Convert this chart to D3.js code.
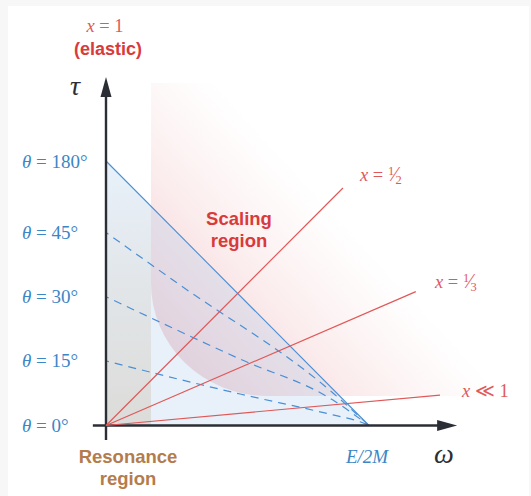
<!DOCTYPE html>
<html>
<head>
<meta charset="utf-8">
<script src="https://cdn.jsdelivr.net/npm/d3@7"></script>
<style>
  html, body { margin: 0; padding: 0; background: #f7f7f7; }
  svg { display: block; }
</style>
</head>
<body>
<svg id="chart" width="531" height="496"></svg>
<script>
// Kinematic plane: energy transfer ω (in units of E/2M) against τ
const thetaLabels = ["0°", "15°", "30°", "45°", "180°"];
const thetaTau    = [0, 0.244, 0.487, 0.730, 1];

// Fixed-angle curves, read as (ω, τ) pairs, ending at ω = E/2M
const theta15Curve = [[0, 0.244], [0.51, 0.119], [0.863, 0.040], [0.966, 0.014], [1, 0]];
const theta30Curve = [[0, 0.487], [0.51, 0.251], [0.863, 0.096], [1, 0]];
const theta45Curve = [[0, 0.730], [0.27, 0.539], [0.863, 0.123], [1, 0]];

// Fixed-x rays from the origin: label and far end point
const xRayLabels = ["½", "⅓", "≪1"];
const xRayOmega  = [0.901, 1.178, 1.27];
const xRayTau    = [0.898, 0.506, 0.115];

// Regions in (ω, τ)
const resonanceOmega = [0, 0.171];
const scalingOmega   = [0.171, 1.61];
const scalingTau     = [0.112, 1.295];
const scalingCorner  = [0.44, 0.427];

const svg = d3.select("#chart");
const x = d3.scaleLinear().domain([0, 1]).range([106, 369]);
const y = d3.scaleLinear().domain([0, 1]).range([425.5, 161]);

const BLUE = "#3b86c6", RED = "#d93a3a", LINE_RED = "#e05858", AXIS = "#2b2e34";

svg.append("rect").attr("x", 8).attr("y", 6).attr("width", 521).attr("height", 490).attr("fill", "#fff");

const defs = svg.append("defs");

// Scaling region: pink fading towards the upper right
const sx0 = x(scalingOmega[0]), sx1 = x(scalingOmega[1]);
const syb = y(scalingTau[0]), syt = y(scalingTau[1]);
const rx = x(scalingOmega[0] + scalingCorner[0]) - sx0;
const ry = y(scalingTau[0]) - y(scalingTau[0] + scalingCorner[1]);
const pinkGrad = defs.append("linearGradient").attr("id", "pinkGrad")
  .attr("gradientUnits", "userSpaceOnUse")
  .attr("x1", sx0).attr("y1", syb)
  .attr("x2", sx0 + 0.735 * 260).attr("y2", syb - 0.678 * 260);
pinkGrad.append("stop").attr("offset", 0).attr("stop-color", "rgb(236,170,176)").attr("stop-opacity", 0.6);
pinkGrad.append("stop").attr("offset", 0.5).attr("stop-color", "rgb(238,178,182)").attr("stop-opacity", 0.32);
pinkGrad.append("stop").attr("offset", 1).attr("stop-color", "rgb(245,200,200)").attr("stop-opacity", 0);

svg.append("path")
  .attr("d", `M${sx0},${syt}L${sx1},${syt}L${sx1},${syb}L${sx0 + rx},${syb}` +
             `A${rx},${ry} 0 0 1 ${sx0},${syb - ry}Z`)
  .attr("fill", "url(#pinkGrad)");

// Physical region triangle
const triangle = [[0, 0], [0, 1], [1, 0]];
const triPath = d3.line().x(d => x(d[0])).y(d => y(d[1]));
svg.append("path").attr("d", triPath(triangle) + "Z")
  .attr("fill", "rgba(165,198,235,0.25)");

// Resonance band, greying towards τ = 0
defs.append("clipPath").attr("id", "triClip")
  .append("path").attr("d", triPath(triangle) + "Z");
const greyGrad = defs.append("linearGradient").attr("id", "greyGrad")
  .attr("x1", 0).attr("y1", 0).attr("x2", 0).attr("y2", 1);
greyGrad.append("stop").attr("offset", 0).attr("stop-color", "rgb(212,205,195)").attr("stop-opacity", 0);
greyGrad.append("stop").attr("offset", 0.45).attr("stop-color", "rgb(212,205,195)").attr("stop-opacity", 0.3);
greyGrad.append("stop").attr("offset", 1).attr("stop-color", "rgb(212,205,195)").attr("stop-opacity", 0.6);
svg.append("rect")
  .attr("x", x(resonanceOmega[0])).attr("y", y(1))
  .attr("width", x(resonanceOmega[1]) - x(resonanceOmega[0]))
  .attr("height", y(0) - y(1))
  .attr("fill", "url(#greyGrad)")
  .attr("clip-path", "url(#triClip)");

// Hypotenuse: θ = 180° edge
svg.append("path").attr("d", triPath([[0, 1], [1, 0]]))
  .attr("stroke", "#4a8fd6").attr("stroke-width", 1.1).attr("fill", "none");

// Fixed-angle dashed curves
const curve = d3.line().x(d => x(d[0])).y(d => y(d[1])).curve(d3.curveMonotoneX);
[theta15Curve, theta30Curve, theta45Curve].forEach(c => {
  svg.append("path").attr("d", curve(c))
    .attr("stroke", "#4a8fd6").attr("stroke-width", 1.2).attr("fill", "none")
    .attr("stroke-dasharray", "8,6").attr("stroke-dashoffset", 5);
});

// Axes with arrowheads
const xTip = 1.335, yTip = 1.318;
svg.append("line").attr("x1", x(-0.05)).attr("y1", y(0)).attr("x2", x(xTip) - 12).attr("y2", y(0))
  .attr("stroke", AXIS).attr("stroke-width", 2.4);
svg.append("line").attr("x1", x(0)).attr("y1", y(-0.055)).attr("x2", x(0)).attr("y2", y(yTip) + 12)
  .attr("stroke", AXIS).attr("stroke-width", 2.4);
svg.append("path")
  .attr("d", `M${x(xTip)},${y(0)}L${x(xTip) - 20},${y(0) - 5.5}L${x(xTip) - 20},${y(0) + 5.5}Z`)
  .attr("fill", AXIS);
svg.append("path")
  .attr("d", `M${x(0)},${y(yTip)}L${x(0) - 5.5},${y(yTip) + 20}L${x(0) + 5.5},${y(yTip) + 20}Z`)
  .attr("fill", AXIS);

// Fixed-x rays
xRayOmega.forEach((w, i) => {
  svg.append("line")
    .attr("x1", x(0)).attr("y1", y(0)).attr("x2", x(w)).attr("y2", y(xRayTau[i]))
    .attr("stroke", LINE_RED).attr("stroke-width", 1.2);
});

// θ labels along the τ axis
const MATH = "'Liberation Serif', 'DejaVu Serif', serif";
const SANS = "'Liberation Sans', Arial, sans-serif";
thetaTau.forEach((t, i) => {
  const txt = svg.append("text")
    .attr("x", 22).attr("y", y(t) + 6.5)
    .attr("font-family", MATH).attr("font-size", 19).attr("fill", BLUE);
  txt.append("tspan").attr("font-style", "italic").text("θ");
  txt.append("tspan").text(" = " + thetaLabels[i]);
});

// Ray labels
const rayLabelPos = [[360, 181], [435, 288], [462, 397]];
xRayLabels.forEach((lab, i) => {
  const t = svg.append("text")
    .attr("x", rayLabelPos[i][0]).attr("y", rayLabelPos[i][1])
    .attr("font-family", MATH).attr("font-size", 18.5).attr("fill", LINE_RED);
  t.append("tspan").attr("font-style", "italic").text("x");
  if (lab === "≪1") {
    t.append("tspan").text(" ≪ 1");
  } else {
    t.append("tspan").text(" = ");
    t.append("tspan").attr("font-size", 12.5).attr("dy", -6).text("1");
    t.append("tspan").attr("font-size", 20).attr("dy", 6).attr("dx", -1).text("⁄");
    t.append("tspan").attr("font-size", 12.5).attr("dy", 3).attr("dx", -1).text(lab === "½" ? "2" : "3");
  }
});

// x = 1 (elastic) above the τ axis
const el = svg.append("text").attr("x", 105).attr("y", 32).attr("text-anchor", "middle")
  .attr("font-family", MATH).attr("font-size", 18.5).attr("fill", LINE_RED);
el.append("tspan").attr("font-style", "italic").text("x");
el.append("tspan").text(" = 1");
svg.append("text").attr("x", 108).attr("y", 55).attr("text-anchor", "middle")
  .attr("font-family", SANS).attr("font-weight", "bold").attr("font-size", 18)
  .attr("fill", RED).text("(elastic)");

// Axis titles
svg.append("text").attr("x", 75).attr("y", 95).attr("text-anchor", "middle")
  .attr("font-family", MATH).attr("font-style", "italic").attr("font-size", 28)
  .attr("fill", AXIS).text("τ");
svg.append("text").attr("x", 444).attr("y", 463).attr("text-anchor", "middle")
  .attr("font-family", MATH).attr("font-style", "italic").attr("font-size", 28)
  .attr("fill", AXIS).text("ω");
svg.append("text").attr("x", x(1) - 2).attr("y", 463).attr("text-anchor", "middle")
  .attr("font-family", MATH).attr("font-style", "italic").attr("font-size", 19)
  .attr("fill", BLUE).text("E/2M");

// Region names
const regionText = (lines, cx, y0, color) => {
  const t = svg.append("text").attr("text-anchor", "middle")
    .attr("font-family", SANS).attr("font-weight", "bold").attr("font-size", 18.5)
    .attr("fill", color);
  lines.forEach((s, i) => t.append("tspan").attr("x", cx).attr("y", y0 + i * 21.5).text(s));
};
regionText(["Scaling", "region"], 239, 225, RED);
regionText(["Resonance", "region"], 128, 463, "#b47c4c");
</script>
</body>
</html>
